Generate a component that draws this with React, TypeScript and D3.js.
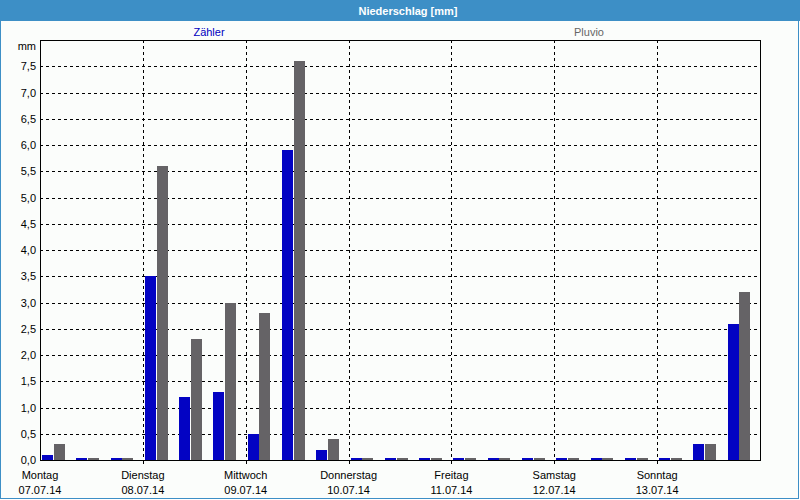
import * as d3 from 'd3';

// Niederschlag, 8-hour sums, 07.07.14 - 13.07.14
const dayNames = ['Montag', 'Dienstag', 'Mittwoch', 'Donnerstag', 'Freitag', 'Samstag', 'Sonntag'];
const dayDates = ['07.07.14', '08.07.14', '09.07.14', '10.07.14', '11.07.14', '12.07.14', '13.07.14'];
const seriesNames = ['Zähler', 'Pluvio'];
const zaehler = [0.1, 0, 0, 3.5, 1.2, 1.3, 0.5, 5.9, 0.2, 0, 0, 0, 0, 0, 0, 0, 0, 0, 0, 0.3, 2.6];
const pluvio = [0.3, 0, 0, 5.6, 2.3, 3.0, 2.8, 7.6, 0.4, 0, 0, 0, 0, 0, 0, 0, 0, 0, 0, 0.3, 3.2];
const yTicks = [0, 0.5, 1, 1.5, 2, 2.5, 3, 3.5, 4, 4.5, 5, 5.5, 6, 6.5, 7, 7.5];

const W = 800;
const H = 500;
const margin = { top: 40, right: 40, bottom: 40, left: 40 };
const colors = ['#0303c3', '#656366'];
const font = '"Liberation Sans", Arial, sans-serif';

export default function App() {
  const x = d3.scaleBand<number>()
    .domain(d3.range(zaehler.length))
    .range([margin.left, W - margin.right]);
  const bw = x.bandwidth();
  const xSub = d3.scaleBand<string>()
    .domain(seriesNames)
    .range([bw * 0.06, bw * 0.73])
    .paddingInner(0.04);
  const xDay = d3.scaleLinear().domain([0, dayNames.length]).range([margin.left, W - margin.right]);
  const y = d3.scaleLinear().domain([0, 8]).range([H - margin.bottom, margin.top]);
  const fmt = (v: number) => d3.format('.1f')(v).replace('.', ',');

  const values = [zaehler, pluvio];
  const x0 = margin.left;
  const x1 = W - margin.right;
  const y0 = y(0);
  const yTop = y(8);

  return (
    <svg width={W} height={H} style={{ position: 'absolute', left: 0, top: 0 }} fontFamily={font} fontSize={11}>
      <rect x={0.5} y={0.5} width={W - 2} height={H - 2} fill="#fbfdfb" stroke="#3d8fc6" />
      <rect x={0} y={0} width={W} height={21} fill="#3d8fc6" />
      <text x={408} y={14.5} fill="#fff" fontWeight="bold" textAnchor="middle">Niederschlag [mm]</text>

      <text x={209} y={35.5} fill="#0000c0" textAnchor="middle">{seriesNames[0]}</text>
      <text x={589} y={35.5} fill="#666" textAnchor="middle">{seriesNames[1]}</text>

      {/* horizontal grid */}
      {yTicks.filter(t => t > 0).map(t => (
        <line key={'h' + t} x1={x0} x2={x1} y1={Math.round(y(t)) + 0.5} y2={Math.round(y(t)) + 0.5}
          stroke="#000" strokeDasharray="3,3" shapeRendering="crispEdges" />
      ))}
      {/* vertical grid at day boundaries */}
      {d3.range(1, dayNames.length).map(d => (
        <line key={'v' + d} x1={Math.round(xDay(d)) + 0.5} x2={Math.round(xDay(d)) + 0.5} y1={yTop} y2={y0 + 4}
          stroke="#000" strokeDasharray="3,3" shapeRendering="crispEdges" />
      ))}

      {/* bars */}
      {values.map((vals, si) => vals.map((v, i) => {
        const h = Math.max(2, y0 - y(v));
        return (
          <rect key={si + '-' + i} x={Math.round((x(i) as number) + (xSub(seriesNames[si]) as number))} y={y0 - h}
            width={Math.round(xSub.bandwidth())} height={h} fill={colors[si]} shapeRendering="crispEdges" />
        );
      }))}

      {/* frame */}
      <rect x={x0 + 0.5} y={yTop + 0.5} width={x1 - x0} height={y0 - yTop} fill="none" stroke="#000" shapeRendering="crispEdges" />
      {d3.range(1, dayNames.length).map(d => (
        <line key={'t' + d} x1={Math.round(xDay(d)) + 0.5} x2={Math.round(xDay(d)) + 0.5} y1={y0} y2={y0 + 4}
          stroke="#000" shapeRendering="crispEdges" />
      ))}

      {/* y labels */}
      <text x={36} y={50} textAnchor="end" fill="#000">mm</text>
      {yTicks.map(t => (
        <text key={'yl' + t} x={36} y={y(t) + 4} textAnchor="end" fill="#000">{fmt(t)}</text>
      ))}

      {/* day labels */}
      {dayNames.map((n, d) => (
        <g key={n}>
          <text x={xDay(d)} y={479} textAnchor="middle" fill="#000">{n}</text>
          <text x={xDay(d)} y={494} textAnchor="middle" fill="#000">{dayDates[d]}</text>
        </g>
      ))}
    </svg>
  );
}
